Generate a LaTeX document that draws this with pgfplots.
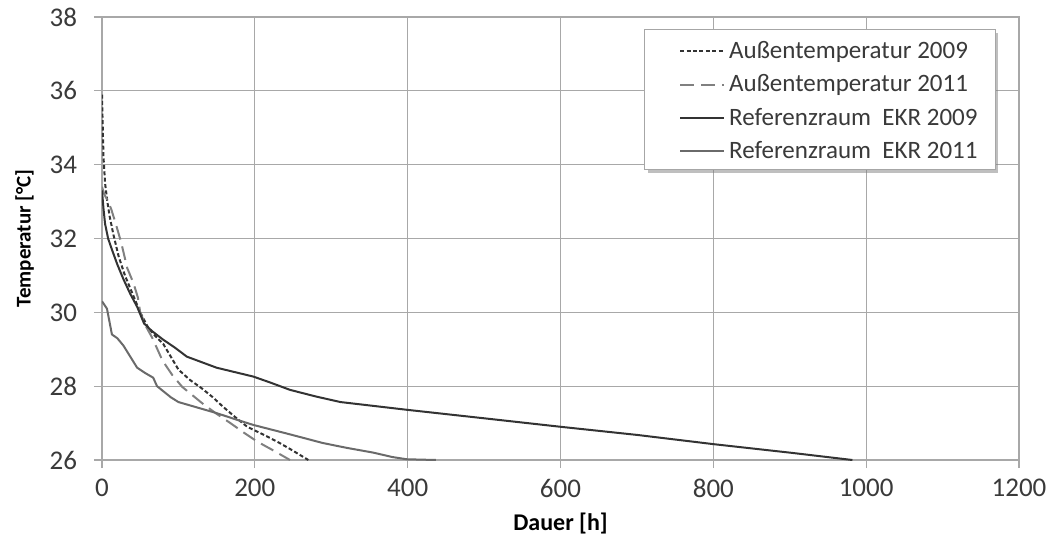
\documentclass[border=0pt]{standalone}
\usepackage{fontspec}
\setmainfont{Carlito}
\usepackage{pgfplots}
\pgfplotsset{compat=1.18}
\usetikzlibrary{shadows}
\definecolor{darkc}{HTML}{333333}
\definecolor{grayc}{HTML}{6A6A6A}
\definecolor{dashc}{HTML}{808080}
\definecolor{gridc}{HTML}{A8A8A8}
\definecolor{textc}{HTML}{3A3A3A}
\begin{document}
\begin{tikzpicture}
\begin{axis}[
  scale only axis,
  width=458.5pt, height=221.5pt,
  xmin=0, xmax=1200, ymin=26, ymax=38,
  xtick={0,200,...,1200}, ytick={26,28,...,38},
  grid=major,
  major grid style={gridc, line width=0.6pt},
  axis line style={gridc, line width=0.6pt},
  tick style={gridc, line width=0.6pt},
  tick align=outside, major tick length=4pt,
  xtick pos=bottom, ytick pos=left,
  /pgf/number format/assume math mode=true,
  /pgf/number format/1000 sep={},
  ticklabel style={font=\fontsize{13.5}{15}\selectfont, text=textc},
  xticklabel style={yshift=-2pt},
  yticklabel style={xshift=-5pt},
  xlabel={\textbf{Dauer [h]}},
  ylabel={\textbf{Temperatur [°C]}},
  xlabel style={font=\fontsize{12}{14}\selectfont, text=black, yshift=-1pt},
  ylabel style={font=\fontsize{10.5}{13}\selectfont, text=black, yshift=1pt},
  legend cell align=left,
  legend style={at={(0.629,0.955)}, anchor=north west, draw=none, fill=none,
    font=\fontsize{12.5}{14}\selectfont, text=textc,
    row sep=2.6pt, inner xsep=0pt, inner ysep=0pt},
  legend image code/.code={\draw[#1] (0pt,0pt) -- (22pt,0pt);},
]
\draw[gray!70, line width=0.6pt, fill=white, drop shadow={shadow xshift=1.5pt, shadow yshift=-1.5pt, opacity=0.5}]
  (rel axis cs:0.592,0.655) rectangle (rel axis cs:0.974,0.971);
\addplot[darkc, line width=1pt, dash pattern=on 2pt off 1.2pt] coordinates {
(0,35.9) (1,35) (2,34.2) (4,33.5) (7,33) (10,32.6) (15,32.1) (22,31.5) (30,31.0) (40,30.5) (50,30.0) (60,29.6) (70,29.35) (80,29.15) (90,28.8) (100,28.45) (115,28.17) (130,27.95) (145,27.7) (158,27.45) (175,27.15) (190,26.9) (210,26.7) (229,26.5) (246,26.3) (258,26.15) (270,26.0)};
\addlegendentry{Außentemperatur  2009}
\addplot[dashc, line width=1pt, dash pattern=on 7pt off 3.5pt] coordinates {
(0,33.4) (3,33.2) (8,33.0) (12,32.8) (18,32.4) (25,31.9) (33,31.2) (41,30.8) (47,30.4) (50,30.0) (58,29.6) (66,29.3) (79,28.7) (92,28.3) (105,27.98) (131,27.54) (150,27.25) (168,27.0) (185,26.75) (203,26.5) (225,26.25) (246,26.0)};
\addlegendentry{Außentemperatur  2011}
\addplot[darkc, line width=1pt] coordinates {
(0,33.3) (2,32.8) (4,32.4) (8,32.0) (13,31.7) (20,31.3) (28,30.9) (37,30.5) (46,30.15) (55,29.7) (65,29.5) (80,29.26) (95,29.05) (111,28.8) (150,28.5) (198,28.26) (220,28.1) (246,27.9) (280,27.72) (312,27.57) (399,27.36) (500,27.13) (600,26.9) (700,26.68) (800,26.43) (900,26.2) (982,26.0)};
\addlegendentry{Referenzraum\ \ EKR 2009}
\addplot[grayc, line width=1pt] coordinates {
(0,30.3) (6.5,30.1) (13,29.4) (20,29.3) (28,29.1) (37,28.8) (46,28.5) (57,28.35) (67,28.23) (72,28.0) (78,27.9) (90,27.7) (100,27.57) (125,27.42) (150,27.27) (175,27.1) (198,26.95) (245,26.7) (289,26.46) (320,26.33) (355,26.2) (380,26.08) (399,26.02) (437,26.0)};
\addlegendentry{Referenzraum\ \ EKR 2011}
\end{axis}
\pgfresetboundingbox
\path[use as bounding box] (-51pt,-40.5pt) rectangle (475.5pt,230pt);
\end{tikzpicture}
\end{document}
